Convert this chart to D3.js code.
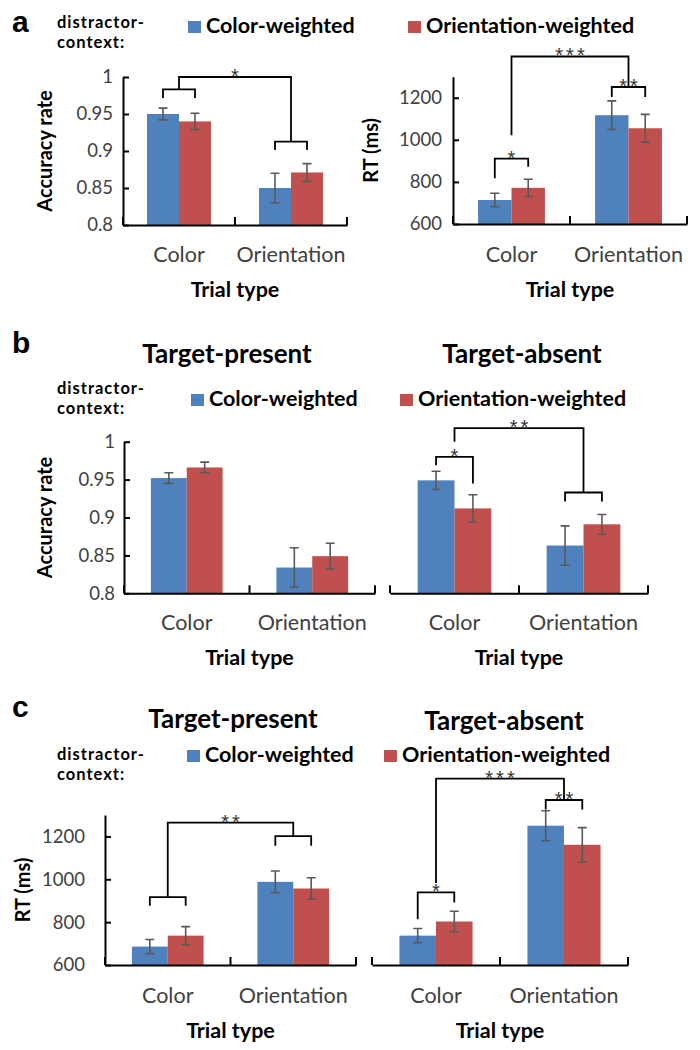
<!DOCTYPE html>
<html>
<head>
<meta charset="utf-8">
<script src="https://cdn.jsdelivr.net/npm/d3@7"></script>
<style>
  body { margin: 0; background: #fff; }
</style>
</head>
<body>
<svg id="chart" width="700" height="1050"></svg>
<script>
/* Values. Each value table is [trial type][distractor context],
** so accAll[1][0] is the Orientation trials with a Color-weighted context.
*/
var seriesNames = ["Color-weighted", "Orientation-weighted"];
var trialTypes = ["Color", "Orientation"];
var subTitles = ["Target-present", "Target-absent"];
var contextLines = ["distractor-", "context:"];

var accDomain = [0.8, 1];
var accTicks = [0.8, 0.85, 0.9, 0.95, 1];
var rtDomain = [600, 1300];
var rtTicks = [600, 800, 1000, 1200];

// a: all trials
var accAll = [[0.950, 0.940], [0.850, 0.871]];
var accAllErr = [[0.008, 0.011], [0.020, 0.012]];
var rtAll = [[714, 772], [1117, 1055]];
var rtAllErr = [[32, 41], [68, 66]];

// b: accuracy by target presence
var accPresent = [[0.952, 0.966], [0.834, 0.849]];
var accPresentErr = [[0.007, 0.007], [0.026, 0.017]];
var accAbsent = [[0.949, 0.912], [0.863, 0.891]];
var accAbsentErr = [[0.012, 0.018], [0.026, 0.013]];

// c: RT by target presence
var rtPresent = [[686, 737], [988, 957]];
var rtPresentErr = [[33, 42], [51, 50]];
var rtAbsent = [[737, 803], [1250, 1161]];
var rtAbsentErr = [[33, 48], [70, 80]];

/* Significance marks, levels in the panel's data units.
** pairs: bracket over the two bars of one trial type (legs = where each leg stops)
** cross: bracket between the two trial types (feet = where each end stops)
*/
var accAllPairs = [
    { type: 0, top: 0.9834, legs: [0.9716, 0.9716], label: "" },
    { type: 1, top: 0.9126, legs: [0.9014, 0.9014], label: "" }
];
var accAllCross = { top: 1.0, feet: [0.9834, 0.9126], label: "*" };

var rtAllPairs = [
    { type: 0, top: 911, legs: [818, 872], label: "*" },
    { type: 1, top: 1251, legs: [1203, 1203], label: "**" }
];
var rtAllCross = { top: 1396, feet: [1022, 1251], label: "***" };

var accAbsentPairs = [
    { type: 0, top: 0.980, legs: [0.969, 0.945], label: "*" },
    { type: 1, top: 0.933, legs: [0.921, 0.921], label: "" }
];
var accAbsentCross = { top: 1.018, feet: [1.0, 0.933], label: "**" };

var rtPresentPairs = [
    { type: 0, top: 917, legs: [876, 876], label: "" },
    { type: 1, top: 1201, legs: [1157, 1157], label: "" }
];
var rtPresentCross = { top: 1264, feet: [917, 1201], label: "**" };

var rtAbsentPairs = [
    { type: 0, top: 939, legs: [814, 892], label: "*" },
    { type: 1, top: 1370, legs: [1326, 1326], label: "**" }
];
var rtAbsentCross = { top: 1470, feet: [983, 1370], label: "***" };

var config = {
    colors: {
        series: ["#4F81BD", "#C0504D"],
        error: "#595959",
        line: "#000000",
        tick: "#404040",
        star: "#333333",
        text: "#000000"
    },
    font: "Lato, 'Liberation Sans', sans-serif",
    letterFont: "'Liberation Sans', Arial, sans-serif",
    tickSize: 18.5,
    catSize: 21.5,
    xTitleSize: 21.5,
    yTitleSize: 20,
    legendSize: 21.5,
    contextSize: 16.5,
    contextLine: 20,
    subTitleSize: 26,
    letterSize: 30,
    starSize: 20,
    starGap: 3
};

// plot boxes in page pixels
var panels = [
    { values: accAll, errors: accAllErr, domain: accDomain, ticks: accTicks, yTitle: "Accuracy rate",
      x: [123, 347], y: [77, 225], yAxis: true, yTitleX: 52, tickPad: 10, catY: 262, titleY: 297,
      pairs: accAllPairs, cross: accAllCross },
    { values: rtAll, errors: rtAllErr, domain: rtDomain, ticks: rtTicks, yTitle: "RT (ms)",
      x: [453, 687], y: [76.7, 224], yAxis: true, yTitleX: 378, tickPad: 11, catY: 262, titleY: 297,
      pairs: rtAllPairs, cross: rtAllCross },
    { values: accPresent, errors: accPresentErr, domain: accDomain, ticks: accTicks, yTitle: "Accuracy rate",
      x: [124, 375], y: [441.7, 593.3], yAxis: true, yTitleX: 52, tickPad: 9, catY: 630, titleY: 665,
      pairs: [], cross: null },
    { values: accAbsent, errors: accAbsentErr, domain: accDomain, ticks: accTicks,
      x: [390, 648], y: [441.7, 593.3], yAxis: false, catY: 630, titleY: 665,
      pairs: accAbsentPairs, cross: accAbsentCross },
    { values: rtPresent, errors: rtPresentErr, domain: rtDomain, ticks: rtTicks, yTitle: "RT (ms)",
      x: [105, 356], y: [815, 965], yAxis: true, yTitleX: 30, tickPad: 20, catY: 1003, titleY: 1038,
      pairs: rtPresentPairs, cross: rtPresentCross },
    { values: rtAbsent, errors: rtAbsentErr, domain: rtDomain, ticks: rtTicks,
      x: [372, 628], y: [815, 965], yAxis: false, catY: 1003, titleY: 1038,
      pairs: rtAbsentPairs, cross: rtAbsentCross }
];

// panel letter, legend and sub titles per row
var rows = [
    { letter: "a", letterY: 32, contextY: 28, legendTop: 21, legendX: [188, 408], titles: null },
    { letter: "b", letterY: 353, contextY: 394, legendTop: 394, legendX: [191, 400],
      titles: [[227, 363], [522, 363]] },
    { letter: "c", letterY: 717, contextY: 760, legendTop: 750, legendX: [187, 384],
      titles: [[233, 728], [504, 730]] }
];

var svg = d3.select("#chart");

function drawRow(r) {
    var g = svg.append("g").attr("font-family", config.font).attr("fill", config.colors.text);

    g.append("text")
        .attr("x", 12).attr("y", r.letterY)
        .attr("font-family", config.letterFont)
        .attr("font-size", config.letterSize)
        .attr("font-weight", "bold")
        .text(r.letter);

    // two line "distractor- / context:" label
    g.selectAll(".ctx")
        .data(contextLines)
        .enter().append("text")
        .attr("x", 57)
        .attr("y", function (d, i) { return r.contextY + i * config.contextLine; })
        .attr("font-size", config.contextSize)
        .attr("font-weight", "bold")
        .attr("letter-spacing", 1)
        .text(function (d) { return d; });

    var items = g.selectAll(".legend")
        .data(seriesNames)
        .enter().append("g")
        .attr("transform", function (d, i) { return "translate(" + r.legendX[i] + "," + r.legendTop + ")"; });
    items.append("rect")
        .attr("width", 13).attr("height", 12)
        .attr("fill", function (d, i) { return config.colors.series[i]; });
    items.append("text")
        .attr("x", 18).attr("y", 12)
        .attr("font-size", config.legendSize)
        .attr("font-weight", "bold")
        .text(function (d) { return d; });

    if (r.titles) {
        g.selectAll(".sub")
            .data(subTitles)
            .enter().append("text")
            .attr("x", function (d, i) { return r.titles[i][0]; })
            .attr("y", function (d, i) { return r.titles[i][1]; })
            .attr("text-anchor", "middle")
            .attr("font-size", config.subTitleSize)
            .attr("font-weight", "bold")
            .text(function (d) { return d; });
    }
}

function drawPanel(p) {
    var x = d3.scaleBand().domain(trialTypes).range(p.x);
    // Excel style: gap between groups is 1.5 bar widths
    var xs = d3.scaleBand().domain(seriesNames).range([0, x.bandwidth()]).paddingOuter(0.75);
    var y = d3.scaleLinear().domain(p.domain).range([p.y[1], p.y[0]]);
    var base = y(p.domain[0]);
    var g = svg.append("g").attr("font-family", config.font);

    var bars = [];
    trialTypes.forEach(function (t, i) {
        seriesNames.forEach(function (s, j) {
            bars.push({ type: t, series: s, j: j, value: p.values[i][j], err: p.errors[i][j] });
        });
    });
    var cx = function (d) { return x(d.type) + xs(d.series) + xs.bandwidth() / 2; };

    // bars
    g.selectAll(".bar")
        .data(bars)
        .enter().append("rect")
        .attr("x", function (d) { return x(d.type) + xs(d.series); })
        .attr("y", function (d) { return y(d.value); })
        .attr("width", xs.bandwidth())
        .attr("height", function (d) { return base - y(d.value); })
        .attr("fill", function (d) { return config.colors.series[d.j]; });

    // error bars
    g.selectAll(".err")
        .data(bars)
        .enter().append("path")
        .attr("fill", "none")
        .attr("stroke", config.colors.error)
        .attr("stroke-width", 1.6)
        .attr("d", function (d) {
            var xc = cx(d), y0 = y(d.value - d.err), y1 = y(d.value + d.err);
            return "M" + xc + "," + y0 + "V" + y1 +
                "M" + (xc - 4.5) + "," + y1 + "H" + (xc + 4.5) +
                "M" + (xc - 4.5) + "," + y0 + "H" + (xc + 4.5);
        });

    // x axis: category labels, then the line with upward ticks at category edges
    var xAxis = g.append("g")
        .attr("transform", "translate(0," + base + ")")
        .call(d3.axisBottom(x).tickSize(0).tickSizeOuter(0).tickPadding(p.catY - base - 0.71 * config.catSize));
    xAxis.select(".domain").attr("stroke", config.colors.line).attr("stroke-width", 2);
    xAxis.selectAll("text")
        .attr("font-family", config.font)
        .attr("font-size", config.catSize)
        .attr("fill", config.colors.tick);

    var edges = trialTypes.map(function (t) { return x(t); }).concat([p.x[1]]);
    g.selectAll(".edge")
        .data(edges)
        .enter().append("line")
        .attr("x1", function (d) { return d; })
        .attr("x2", function (d) { return d; })
        .attr("y1", base)
        .attr("y2", base - 8)
        .attr("stroke", config.colors.line)
        .attr("stroke-width", 2);

    g.append("text")
        .attr("x", (p.x[0] + p.x[1]) / 2)
        .attr("y", p.titleY)
        .attr("text-anchor", "middle")
        .attr("font-size", config.xTitleSize)
        .attr("font-weight", "bold")
        .text("Trial type");

    if (p.yAxis) {
        var yAxis = g.append("g")
            .attr("transform", "translate(" + p.x[0] + ",0)")
            .call(d3.axisLeft(y).tickValues(p.ticks).tickSize(-6).tickSizeOuter(0)
                .tickPadding(p.tickPad).tickFormat(function (d) { return String(d); }));
        yAxis.select(".domain").attr("stroke", config.colors.line).attr("stroke-width", 2);
        yAxis.selectAll(".tick line").attr("stroke", config.colors.line).attr("stroke-width", 2);
        yAxis.selectAll("text")
            .attr("font-family", config.font)
            .attr("font-size", config.tickSize)
            .attr("fill", config.colors.tick);

        g.append("text")
            .attr("transform", "translate(" + p.yTitleX + "," + (p.y[0] + p.y[1]) / 2 + ") rotate(-90)")
            .attr("text-anchor", "middle")
            .attr("font-size", config.yTitleSize)
            .attr("font-weight", "bold")
            .text(p.yTitle);
    }

    // significance brackets
    var marks = g.append("g")
        .attr("fill", "none")
        .attr("stroke", config.colors.line)
        .attr("stroke-width", 1.8);
    var stars = [];

    p.pairs.forEach(function (b) {
        var t = trialTypes[b.type];
        var xl = x(t) + xs(seriesNames[0]) + xs.bandwidth() / 2;
        var xr = x(t) + xs(seriesNames[1]) + xs.bandwidth() / 2;
        marks.append("path")
            .attr("d", "M" + xl + "," + y(b.legs[0]) + "V" + y(b.top) + "H" + xr + "V" + y(b.legs[1]));
        if (b.label) stars.push({ x: (xl + xr) / 2, y: y(b.top), label: b.label });
    });

    if (p.cross) {
        var c = p.cross;
        var x0 = x(trialTypes[0]) + x.bandwidth() / 2;
        var x1 = x(trialTypes[1]) + x.bandwidth() / 2;
        marks.append("path")
            .attr("d", "M" + x0 + "," + y(c.feet[0]) + "V" + y(c.top) + "H" + x1 + "V" + y(c.feet[1]));
        stars.push({ x: (x0 + x1) / 2, y: y(c.top), label: c.label });
    }

    g.selectAll(".star")
        .data(stars)
        .enter().append("text")
        .attr("x", function (d) { return d.x + config.starGap / 2; })
        .attr("y", function (d) { return d.y + 6; })
        .attr("text-anchor", "middle")
        .attr("font-family", config.letterFont)
        .attr("font-size", config.starSize)
        .attr("letter-spacing", config.starGap)
        .attr("fill", config.colors.star)
        .text(function (d) { return d.label; });
}

rows.forEach(drawRow);
panels.forEach(drawPanel);
</script>
</body>
</html>
